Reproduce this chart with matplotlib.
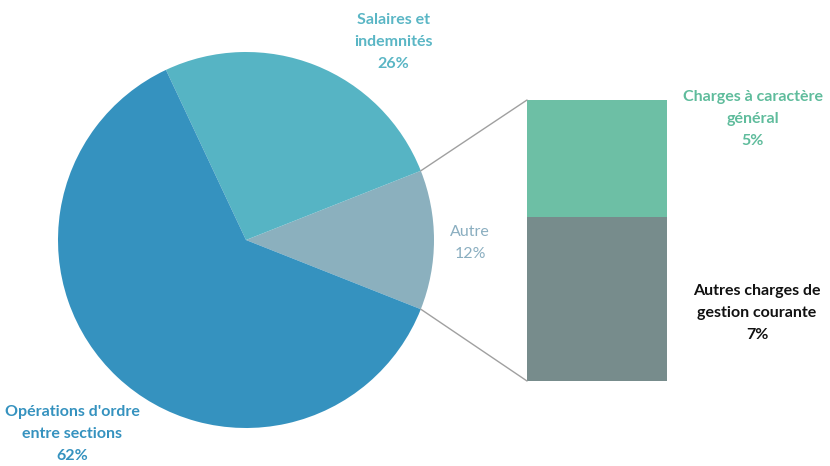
import matplotlib.pyplot as plt
from matplotlib.patches import ConnectionPatch
import numpy as np

# pie data (counter-clockwise, starting with "Autre")
pie_labels = ['Autre', 'Salaires et\nindemnités', "Opérations d'ordre\nentre sections"]
pie_values = [12, 26, 62]
pie_colors = ['#8bb0be', '#56b4c4', '#3592bf']

# breakdown of "Autre"
bar_labels = ['Autres charges de\ngestion courante', 'Charges à caractère\ngénéral']
bar_values = [7, 5]
bar_colors = ['#778c8c', '#6dbfa5']

plt.rcParams['font.family'] = ['Lato', 'DejaVu Sans']

W, H = 830, 466
fig = plt.figure(figsize=(W / 100, H / 100), dpi=100)

def px_axes(x0, y0, x1, y1):
    # pixel box (top-left origin) -> figure axes
    return fig.add_axes([x0 / W, 1 - y1 / H, (x1 - x0) / W, (y1 - y0) / H])

# pie
cx, cy, r = 246, 240, 188
ax_pie = px_axes(cx - r, cy - r, cx + r, cy + r)
start = -pie_values[0] / 100 * 360 / 2
wedges, _ = ax_pie.pie(pie_values, colors=pie_colors, startangle=start,
                       counterclock=True, radius=1,
                       wedgeprops=dict(linewidth=0))
ax_pie.set_xlim(-1, 1)
ax_pie.set_ylim(-1, 1)
ax_pie.set_aspect('auto')
ax_pie.axis('off')

# bar
ax_bar = px_axes(527, 100, 667, 381)
bottom = 0
for v, c in zip(bar_values, bar_colors):
    ax_bar.bar(0, v, width=1, bottom=bottom, color=c, linewidth=0)
    bottom += v
ax_bar.set_xlim(-0.5, 0.5)
ax_bar.set_ylim(0, sum(bar_values))
ax_bar.axis('off')

# connector lines from the "Autre" wedge to the bar
w = wedges[0]
for ang, ybar in [(w.theta2, sum(bar_values)), (w.theta1, 0)]:
    xy_pie = (np.cos(np.radians(ang)), np.sin(np.radians(ang)))
    con = ConnectionPatch(xyA=(-0.5, ybar), coordsA=ax_bar.transData,
                          xyB=xy_pie, coordsB=ax_pie.transData,
                          color='#a0a0a0', linewidth=1)
    fig.add_artist(con)

def label(x, y, text, color, bold=True):
    fig.text(x / W, 1 - y / H, text, ha='center', va='center', color=color,
             fontsize=11.5, fontweight='bold' if bold else 'normal',
             linespacing=1.75)

label(393, 42, pie_labels[1] + '\n%d%%' % pie_values[1], '#5ab6c5')
label(470, 243, pie_labels[0] + '\n%d%%' % pie_values[0], '#8aaec0', bold=False)
label(72, 434, pie_labels[2] + '\n%d%%' % pie_values[2], '#3592bf')
label(753, 119, bar_labels[1] + '\n%d%%' % bar_values[1], '#5fbc9c')
label(757, 313, bar_labels[0] + '\n%d%%' % bar_values[0], '#111111')

fig.savefig('out.png', dpi=100, facecolor='white')
